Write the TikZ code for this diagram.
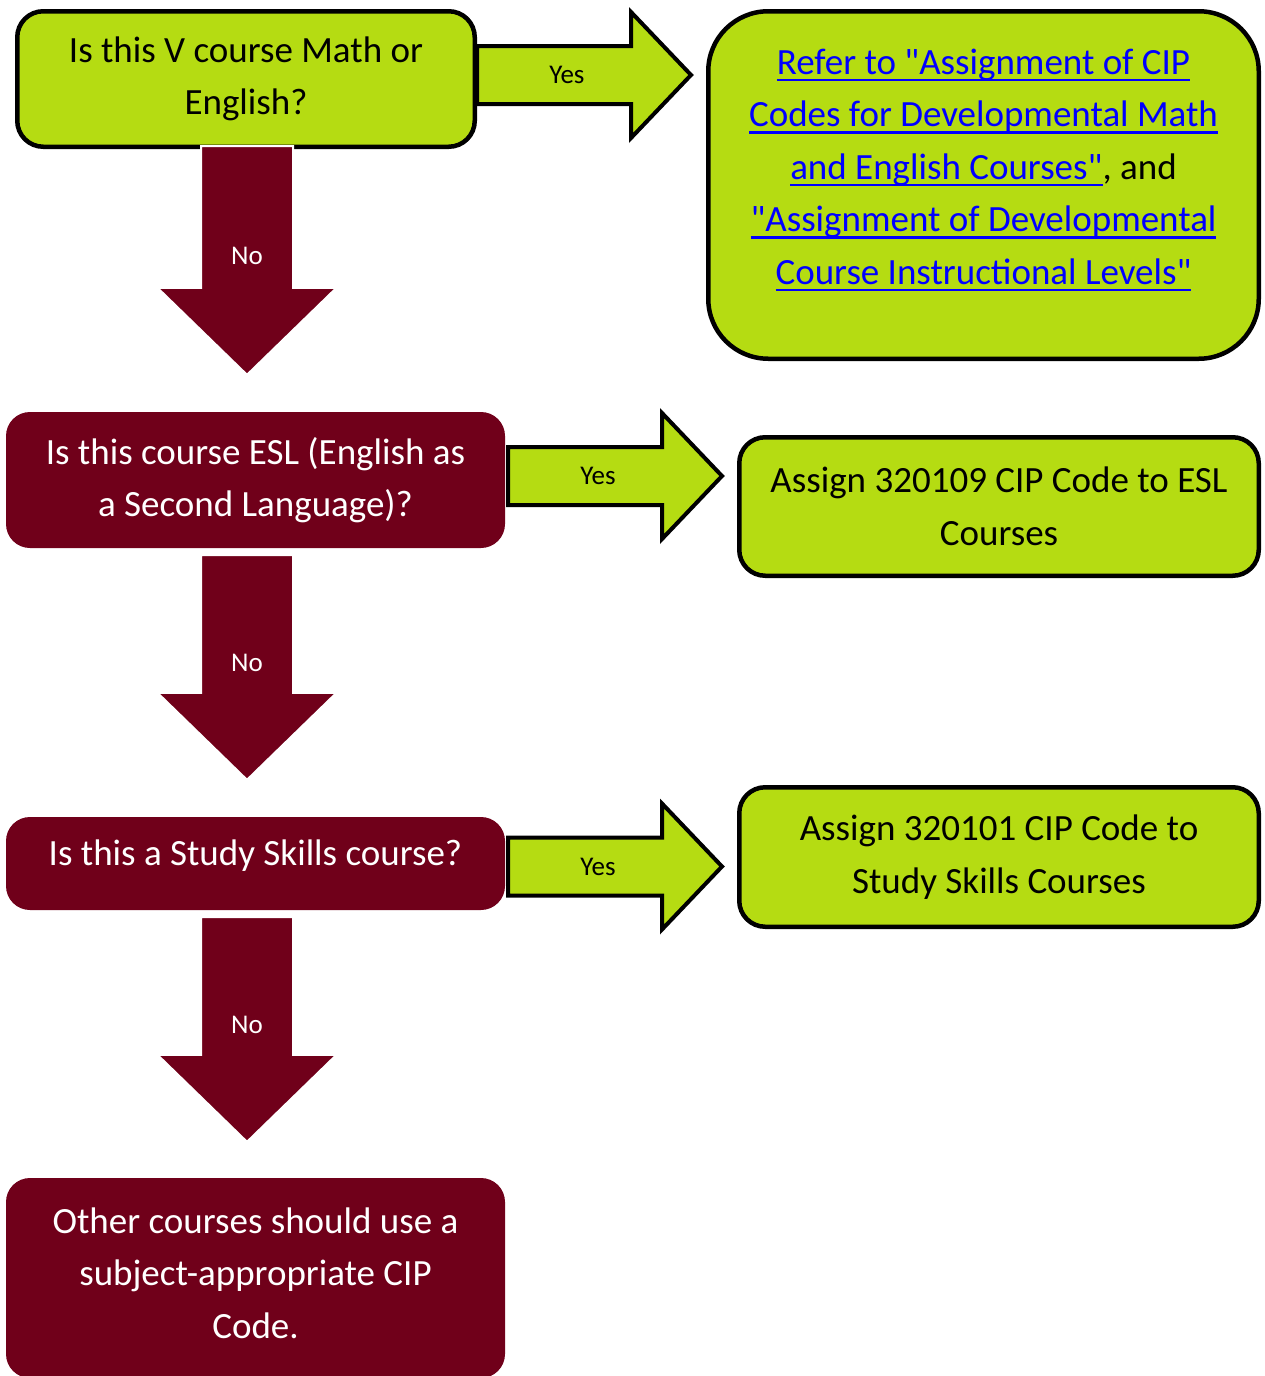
\documentclass[tikz,border=0pt]{standalone}
\usepackage{fontspec}
\setmainfont{Carlito}[Ligatures=TeXOff]
\usetikzlibrary{calc}

\definecolor{cipgreen}{RGB}{181,220,18}
\definecolor{cipred}{RGB}{112,0,26}
\definecolor{linkblue}{RGB}{0,0,255}

% underlined link text
\newcommand{\linkline}[1]{\setbox0\hbox{#1}\rlap{\rule[-7pt]{\wd0}{2.4pt}}\box0}

% block arrows: start, tip, name of the label
\newcommand{\yesarrow}[3]{%
  \draw[yes arrow] ($(#1)+(0,-29)$) -- ($(#2)+(-60,-29)$) -- ($(#2)+(-60,-63)$) -- (#2)
    -- ($(#2)+(-60,63)$) -- ($(#2)+(-60,29)$) -- ($(#1)+(0,29)$) -- cycle;
  \node (#3) [arrow label, text=black] at ($(#1)!0.42!(#2)$) {Yes};
}
\newcommand{\noarrow}[3]{%
  \draw[no arrow] ($(#1)+(-46,0)$) -- ($(#2)+(-46,-87)$) -- ($(#2)+(-89.5,-87)$) -- (#2)
    -- ($(#2)+(89.5,-87)$) -- ($(#2)+(46,-87)$) -- ($(#1)+(46,0)$) -- cycle;
  \node (#3) [arrow label, text=white] at ($(#1)!0.48!(#2)$) {No};
}

\begin{document}
\begin{tikzpicture}[
		x=1pt, y=-1pt,
		every node/.style={font=\fontsize{37}{52.5}\selectfont, align=center, inner sep=0pt},
		greenbox/.style={rectangle, rounded corners=26pt, draw=black, line width=4.5pt, fill=cipgreen, text=black},
		redbox/.style={rectangle, rounded corners=24pt, fill=cipred, text=white},
		yes arrow/.style={draw=black, line width=4pt, fill=cipgreen, line join=miter},
		no arrow/.style={draw=white, line width=2pt, fill=cipred},
		arrow label/.style={font=\fontsize{27}{30}\selectfont}
	]
  \useasboundingbox (0,0) rectangle (1265,1376);
  \clip (0,0) rectangle (1265,1376);
  % questions
  \node (q1) [greenbox, minimum width=457.5pt, minimum height=135.5pt] at (246, 79) {Is this V course Math or\\English?};
  \node (q3) [redbox, minimum width=499pt, minimum height=136pt] at (255.5, 480) {Is this course ESL (English as\\a Second Language)?};
  \node (q5) [redbox, minimum width=499pt, minimum height=93pt, text height=25pt, text depth=22pt] at (255.5, 863.5) {Is this a Study Skills course?};
  \node (q7) [redbox, minimum width=499pt, minimum height=200pt] at (255.5, 1278) {Other courses should use a\\subject-appropriate CIP\\Code.\rule[-10pt]{0pt}{0pt}};
  % answers
  \node (ref) [greenbox, rounded corners=60pt, minimum width=550.5pt, minimum height=347.5pt] at (983.5, 185) {};
  \node (reftext) [text=linkblue] at (983.5, 170) {\linkline{Refer to "Assignment of CIP}\\\linkline{Codes for Developmental Math}\\\linkline{and English Courses"}\textcolor{black}{, and}\\\linkline{"Assignment of Developmental}\\\linkline{Course Instructional Levels"}};
  \node (esl) [greenbox, minimum width=519.5pt, minimum height=138.5pt] at (999, 506.5) {Assign 320109 CIP Code to ESL\\Courses};
  \node (ssk) [greenbox, minimum width=519.5pt, minimum height=139.5pt] at (999, 857) {Assign 320101 CIP Code to\\Study Skills Courses};
  % arrow ends
  \coordinate (y1s) at ($(q1.east)+(0,-4)$);
  \coordinate (y1e) at ($(y1s -| ref.west)+(-15,0)$);
  \coordinate (y2s) at ($(q3.east)+(3,-4)$);
  \coordinate (y2e) at ($(y2s -| esl.west)+(-15,0)$);
  \coordinate (y3s) at ($(q5.east)+(3,3)$);
  \coordinate (y3e) at ($(y3s -| ssk.west)+(-15,0)$);
  \coordinate (n1s) at ($(q1.south)+(1,-3)$);
  \coordinate (n1e) at ($(q3.north -| n1s)+(0,-37)$);
  \coordinate (n2s) at ($(q3.south -| n1s)+(0,7)$);
  \coordinate (n2e) at ($(q5.north -| n1s)+(0,-37)$);
  \coordinate (n3s) at ($(q5.south -| n1s)+(0,7)$);
  \coordinate (n3e) at ($(q7.north -| n1s)+(0,-36)$);
  \yesarrow{y1s}{y1e}{yes1}
  \yesarrow{y2s}{y2e}{yes2}
  \yesarrow{y3s}{y3e}{yes3}
  \noarrow{n1s}{n1e}{no1}
  \noarrow{n2s}{n2e}{no2}
  \noarrow{n3s}{n3e}{no3}
\end{tikzpicture}
\end{document}
